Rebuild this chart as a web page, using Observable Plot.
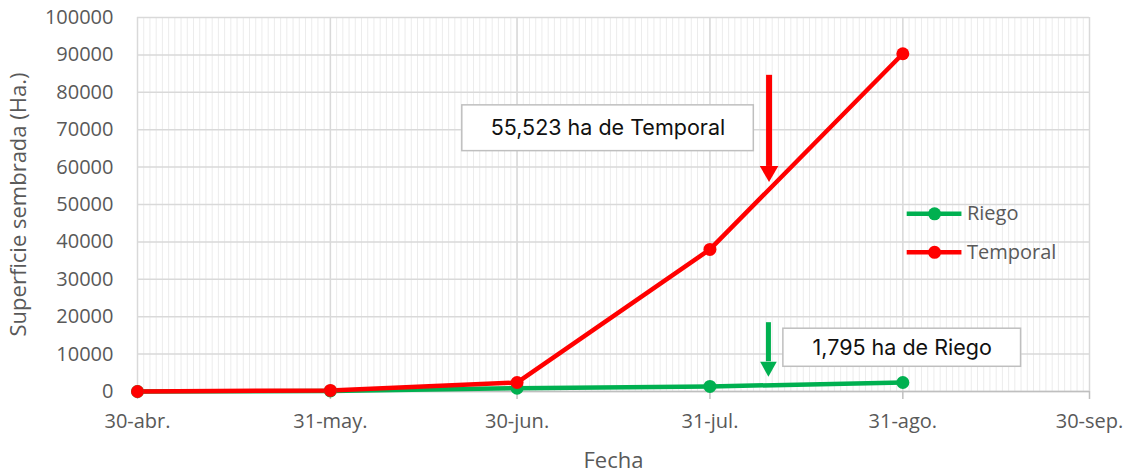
<!DOCTYPE html>
<html><head><meta charset="utf-8">
<script src="https://cdn.jsdelivr.net/npm/d3@7"></script>
<script src="https://cdn.jsdelivr.net/npm/@observablehq/plot@0.6"></script>
<style>body{margin:0;background:#fff;overflow:hidden} #chart svg{display:block}</style>
</head><body><div id="chart"></div>
<script>
// ---- data ----
const fechas = ["2021-04-30","2021-05-31","2021-06-30","2021-07-31","2021-08-31"];
const riego = [0, 150, 900, 1350, 2400];
const temporal = [0, 300, 2400, 38000, 90300];
const series = ["Riego", "Temporal"];
const colores = ["#00B050", "#FF0000"];
const tickFechas = ["2021-04-30","2021-05-31","2021-06-30","2021-07-31","2021-08-31","2021-09-30"];
const tickLabels = ["30-abr.","31-may.","30-jun.","31-jul.","31-ago.","30-sep."];
const yTicks = [0,10000,20000,30000,40000,50000,60000,70000,80000,90000,100000];
const tituloX = "Fecha";
const tituloY = "Superficie sembrada (Ha.)";
const anotTextos = ["55,523 ha de Temporal", "1,795 ha de Riego"];
// annotation placement (days after 30-abr, values in ha)
const anotCajas = [
  {x1: 52.2, x2: 99.05, y1: 64270, y2: 76510, tx: 75.6, ty: 70380},
  {x1: 103.8, x2: 142.0, y1: 6610, y2: 16790, tx: 122.9, ty: 11700}
];
const flechas = [
  {x: 101.5, top: 84540, head: 60170, tip: 56000, color: "#FF0000", w: 6},
  {x: 101.4, top: 18400, head: 7950, tip: 3940, color: "#00B050", w: 5}
];
const leyenda = [
  {serie: "Riego", y: 47510},
  {serie: "Temporal", y: 37220}
];

// ---- build ----
const t0 = Date.UTC(2021, 3, 30);
const day = n => new Date(t0 + n * 864e5);
const parse = s => new Date(s + "T00:00:00Z");
const rows = [];
fechas.forEach((f, i) => {
  rows.push({fecha: parse(f), valor: riego[i], serie: "Riego"});
  rows.push({fecha: parse(f), valor: temporal[i], serie: "Temporal"});
});
const ticks = tickFechas.map(parse);
const labelOf = new Map(ticks.map((d, i) => [+d, tickLabels[i]]));
const dias = d3.utcDay.range(ticks[0], d3.utcDay.offset(ticks[ticks.length - 1], 1));
const colorOf = new Map(series.map((s, i) => [s, colores[i]]));

const headSymbol = (hw, hl) => ({
  draw(ctx, size) {
    const k = Math.sqrt(size / Math.PI);
    ctx.moveTo(0, 0);
    ctx.lineTo(-hw * k, -hl * k);
    ctx.lineTo(hw * k, -hl * k);
    ctx.closePath();
  }
});

const tickFont = {fontFamily: "'Open Sans', sans-serif", fontSize: 20};
const labelFont = {fontFamily: "'Open Sans', sans-serif", fontSize: 22};

const chart = Plot.plot({
  width: 1132,
  height: 474,
  marginLeft: 137,
  marginRight: 43,
  marginTop: 17,
  marginBottom: 83,
  style: {fontFamily: "'Open Sans', sans-serif", fontSize: "20px", color: "#595959", background: "#fff"},
  x: {type: "utc", domain: [ticks[0], ticks[ticks.length - 1]]},
  y: {domain: [0, 100000]},
  marks: [
    Plot.ruleX(dias, {stroke: "#ececec", strokeWidth: 1}),
    Plot.ruleX(ticks, {stroke: "#d9d9d9", strokeWidth: 1.5}),
    Plot.ruleY(yTicks, {stroke: "#d9d9d9", strokeWidth: 1.5}),
    Plot.ruleY([0], {stroke: "#bfbfbf", strokeWidth: 1.5}),
    Plot.axisX(ticks, {tickFormat: d => labelOf.get(+d), tickSize: 8, tickPadding: 14, stroke: "#bfbfbf", strokeWidth: 1.5, fill: "#595959", ...tickFont, label: null}),
    Plot.axisX([], {tickSize: 0, fill: "#595959", ...labelFont, label: tituloX, labelAnchor: "center", labelArrow: "none", labelOffset: 76}),
    Plot.axisY(yTicks, {tickFormat: d => String(d), tickSize: 0, tickPadding: 24, fill: "#595959", ...tickFont, label: null}),
    Plot.axisY([], {tickSize: 0, fill: "#595959", ...labelFont, label: tituloY, labelAnchor: "center", labelArrow: "none", labelOffset: 127}),
    Plot.rect(anotCajas, {x1: d => day(d.x1), x2: d => day(d.x2), y1: "y1", y2: "y2", fill: "#fff", stroke: "#bfbfbf", strokeWidth: 1.5}),
    Plot.text(anotCajas, {x: d => day(d.tx), y: "ty", text: (d, i) => anotTextos[i], fill: "#111", fontFamily: "Inter, sans-serif", fontSize: 21.5, textAnchor: "middle", lineAnchor: "middle"}),
    Plot.ruleX(flechas, {x: d => day(d.x), y1: "top", y2: "head", stroke: "color", strokeWidth: "w"}),
    Plot.dot(flechas.slice(0,1), {x: d => day(d.x), y: "tip", r: 1, symbol: headSymbol(9.3, 16), fill: "color", stroke: "none"}),
    Plot.dot(flechas.slice(1), {x: d => day(d.x), y: "tip", r: 1, symbol: headSymbol(8.3, 15), fill: "color", stroke: "none"}),
    Plot.line(rows, {x: "fecha", y: "valor", z: "serie", stroke: d => colorOf.get(d.serie), strokeWidth: 4.5}),
    Plot.dot(rows, {x: "fecha", y: "valor", r: 6.5, fill: d => colorOf.get(d.serie), stroke: "none"}),
    Plot.ruleY(leyenda, {y: "y", x1: day(123.7), x2: day(132.5), stroke: d => colorOf.get(d.serie), strokeWidth: 4.5}),
    Plot.dot(leyenda, {y: "y", x: day(128.1), r: 6.5, fill: d => colorOf.get(d.serie), stroke: "none"}),
    Plot.text(leyenda, {y: "y", x: day(133.3), text: "serie", textAnchor: "start", fill: "#595959", ...tickFont})
  ]
});
document.getElementById("chart").append(chart);
</script>
</body></html>
